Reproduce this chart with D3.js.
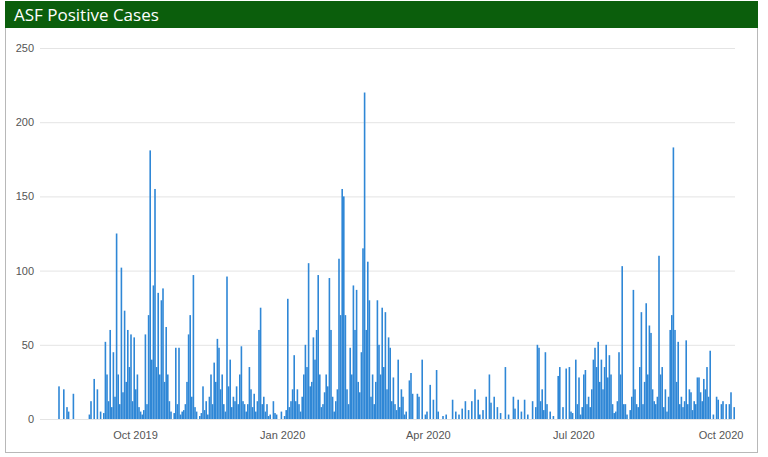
<!DOCTYPE html>
<html>
<head>
<meta charset="utf-8">
<script src="https://cdn.jsdelivr.net/npm/d3@7"></script>
<style>
  body { margin: 0; background: #fff; }
  svg { display: block; font-family: "Open Sans", "Noto Sans", sans-serif; }
</style>
</head>
<body>
<div id="chart"></div>
<script>
// Title and axis labels
var title = "ASF Positive Cases";
var yTicks = [0, 50, 100, 150, 200, 250];
var xTickDates = ["2019-10-01", "2020-01-01", "2020-04-01", "2020-07-01", "2020-10-01"];
var xTickLabels = ["Oct 2019", "Jan 2020", "Apr 2020", "Jul 2020", "Oct 2020"];

// Daily positive cases, one value per day starting at startDay
var startDay = "2019-08-12";
var cases = [
  0, 0, 22, 0, 0, 20, 0, 8, 5, 0,
  0, 17, 0, 0, 0, 0, 0, 0, 0, 0,
  0, 3, 12, 0, 27, 0, 20, 0, 5, 0,
  4, 52, 30, 12, 60, 8, 45, 15, 125, 30,
  10, 102, 18, 73, 25, 60, 35, 57, 12, 55,
  20, 30, 8, 5, 3, 6, 57, 10, 70, 181,
  40, 90, 155, 35, 85, 30, 80, 88, 25, 62,
  30, 12, 5, 0, 4, 48, 10, 48, 3, 5,
  6, 10, 25, 57, 70, 15, 97, 8, 5, 0,
  2, 4, 22, 6, 12, 3, 15, 30, 10, 38,
  25, 54, 48, 20, 30, 10, 5, 96, 22, 40,
  8, 15, 12, 22, 10, 30, 49, 12, 10, 5,
  10, 35, 20, 8, 17, 5, 12, 60, 75, 10,
  15, 5, 10, 2, 3, 0, 12, 4, 3, 0,
  0, 5, 0, 2, 6, 81, 8, 12, 20, 43,
  12, 20, 10, 5, 15, 30, 50, 35, 105, 22,
  25, 55, 40, 60, 97, 30, 8, 10, 18, 30,
  22, 95, 60, 15, 5, 12, 20, 108, 70, 155,
  150, 70, 20, 10, 48, 30, 90, 60, 87, 25,
  18, 45, 115, 220, 60, 106, 80, 15, 30, 10,
  25, 80, 50, 30, 75, 35, 72, 20, 55, 48,
  12, 28, 10, 6, 40, 8, 20, 15, 3, 5,
  0, 26, 31, 17, 0, 0, 17, 15, 0, 40,
  0, 3, 5, 0, 23, 0, 13, 0, 33, 5,
  0, 0, 2, 0, 3, 0, 0, 0, 13, 0,
  5, 0, 3, 0, 7, 0, 12, 0, 6, 0,
  12, 0, 20, 0, 13, 3, 0, 6, 0, 15,
  0, 30, 11, 0, 15, 0, 8, 0, 4, 0,
  0, 35, 0, 3, 0, 0, 15, 7, 0, 13,
  0, 5, 0, 13, 0, 3, 0, 0, 12, 0,
  8, 50, 48, 12, 20, 6, 45, 10, 0, 5,
  0, 2, 0, 0, 29, 35, 0, 8, 0, 34,
  0, 35, 5, 4, 0, 40, 10, 28, 3, 8,
  30, 33, 10, 15, 8, 20, 40, 48, 35, 52,
  25, 40, 20, 35, 50, 28, 43, 30, 10, 4,
  5, 12, 45, 30, 103, 10, 10, 3, 0, 6,
  15, 87, 20, 10, 8, 35, 72, 10, 25, 78,
  30, 63, 58, 20, 12, 10, 15, 110, 30, 35,
  8, 20, 5, 15, 60, 70, 183, 60, 25, 52,
  10, 15, 8, 12, 53, 10, 20, 18, 6, 12,
  10, 28, 28, 18, 12, 27, 20, 35, 15, 46,
  0, 3, 0, 15, 13, 0, 10, 12, 0, 10,
  0, 10, 18, 0, 8
];

var W = 768, H = 457;
var plot = {left: 55, right: 735, top: 48, bottom: 419};

var parse = d3.timeParse("%Y-%m-%d");
var t0 = parse(startDay);
var data = cases.map(function(v, i) { return {date: d3.timeDay.offset(t0, i), value: v}; });

var svg = d3.select("#chart")
  .append("svg")
  .attr("width", W)
  .attr("height", H);

// frame and title bar
svg.append("rect")
  .attr("x", 5.5).attr("y", 1.5)
  .attr("width", 752).attr("height", 451)
  .attr("fill", "#fff")
  .attr("stroke", "#b8b8b8");
svg.append("rect")
  .attr("x", 5).attr("y", 1)
  .attr("width", 753).attr("height", 27)
  .attr("fill", "#0b5e0c");
svg.append("text")
  .attr("x", 14).attr("y", 21)
  .attr("fill", "#fff")
  .attr("font-size", 17)
  .text(title);

var x = d3.scaleTime()
  .domain([t0, d3.timeDay.offset(t0, 425)])
  .range([plot.left, plot.right]);

var y = d3.scaleLinear()
  .domain([0, 250])
  .range([plot.bottom, plot.top]);

// gridlines + y labels
var yAxis = svg.append("g")
  .attr("transform", "translate(40,0)")
  .call(d3.axisLeft(y).tickValues(yTicks).tickSize(-695).tickPadding(6));
yAxis.select(".domain").remove();
yAxis.selectAll(".tick line").attr("stroke", "#e4e4e4");
yAxis.selectAll(".tick text").attr("fill", "#555").attr("font-size", 11);

// bars
var bw = x(d3.timeDay.offset(t0, 1)) - x(t0);
svg.append("g")
  .selectAll("rect")
  .data(data.filter(function(d) { return d.value > 0; }))
  .enter()
  .append("rect")
    .attr("x", function(d) { return x(d.date); })
    .attr("y", function(d) { return y(d.value); })
    .attr("width", bw)
    .attr("height", function(d) { return y(0) - y(d.value); })
    .attr("fill", "#2f87d6");

// x labels
var xAxis = svg.append("g")
  .attr("transform", "translate(0," + plot.bottom + ")")
  .call(d3.axisBottom(x)
    .tickValues(xTickDates.map(parse))
    .tickFormat(function(d, i) { return xTickLabels[i]; })
    .tickSize(0).tickPadding(12));
xAxis.select(".domain").remove();
xAxis.selectAll(".tick text").attr("fill", "#555").attr("font-size", 11);
</script>
</body>
</html>
